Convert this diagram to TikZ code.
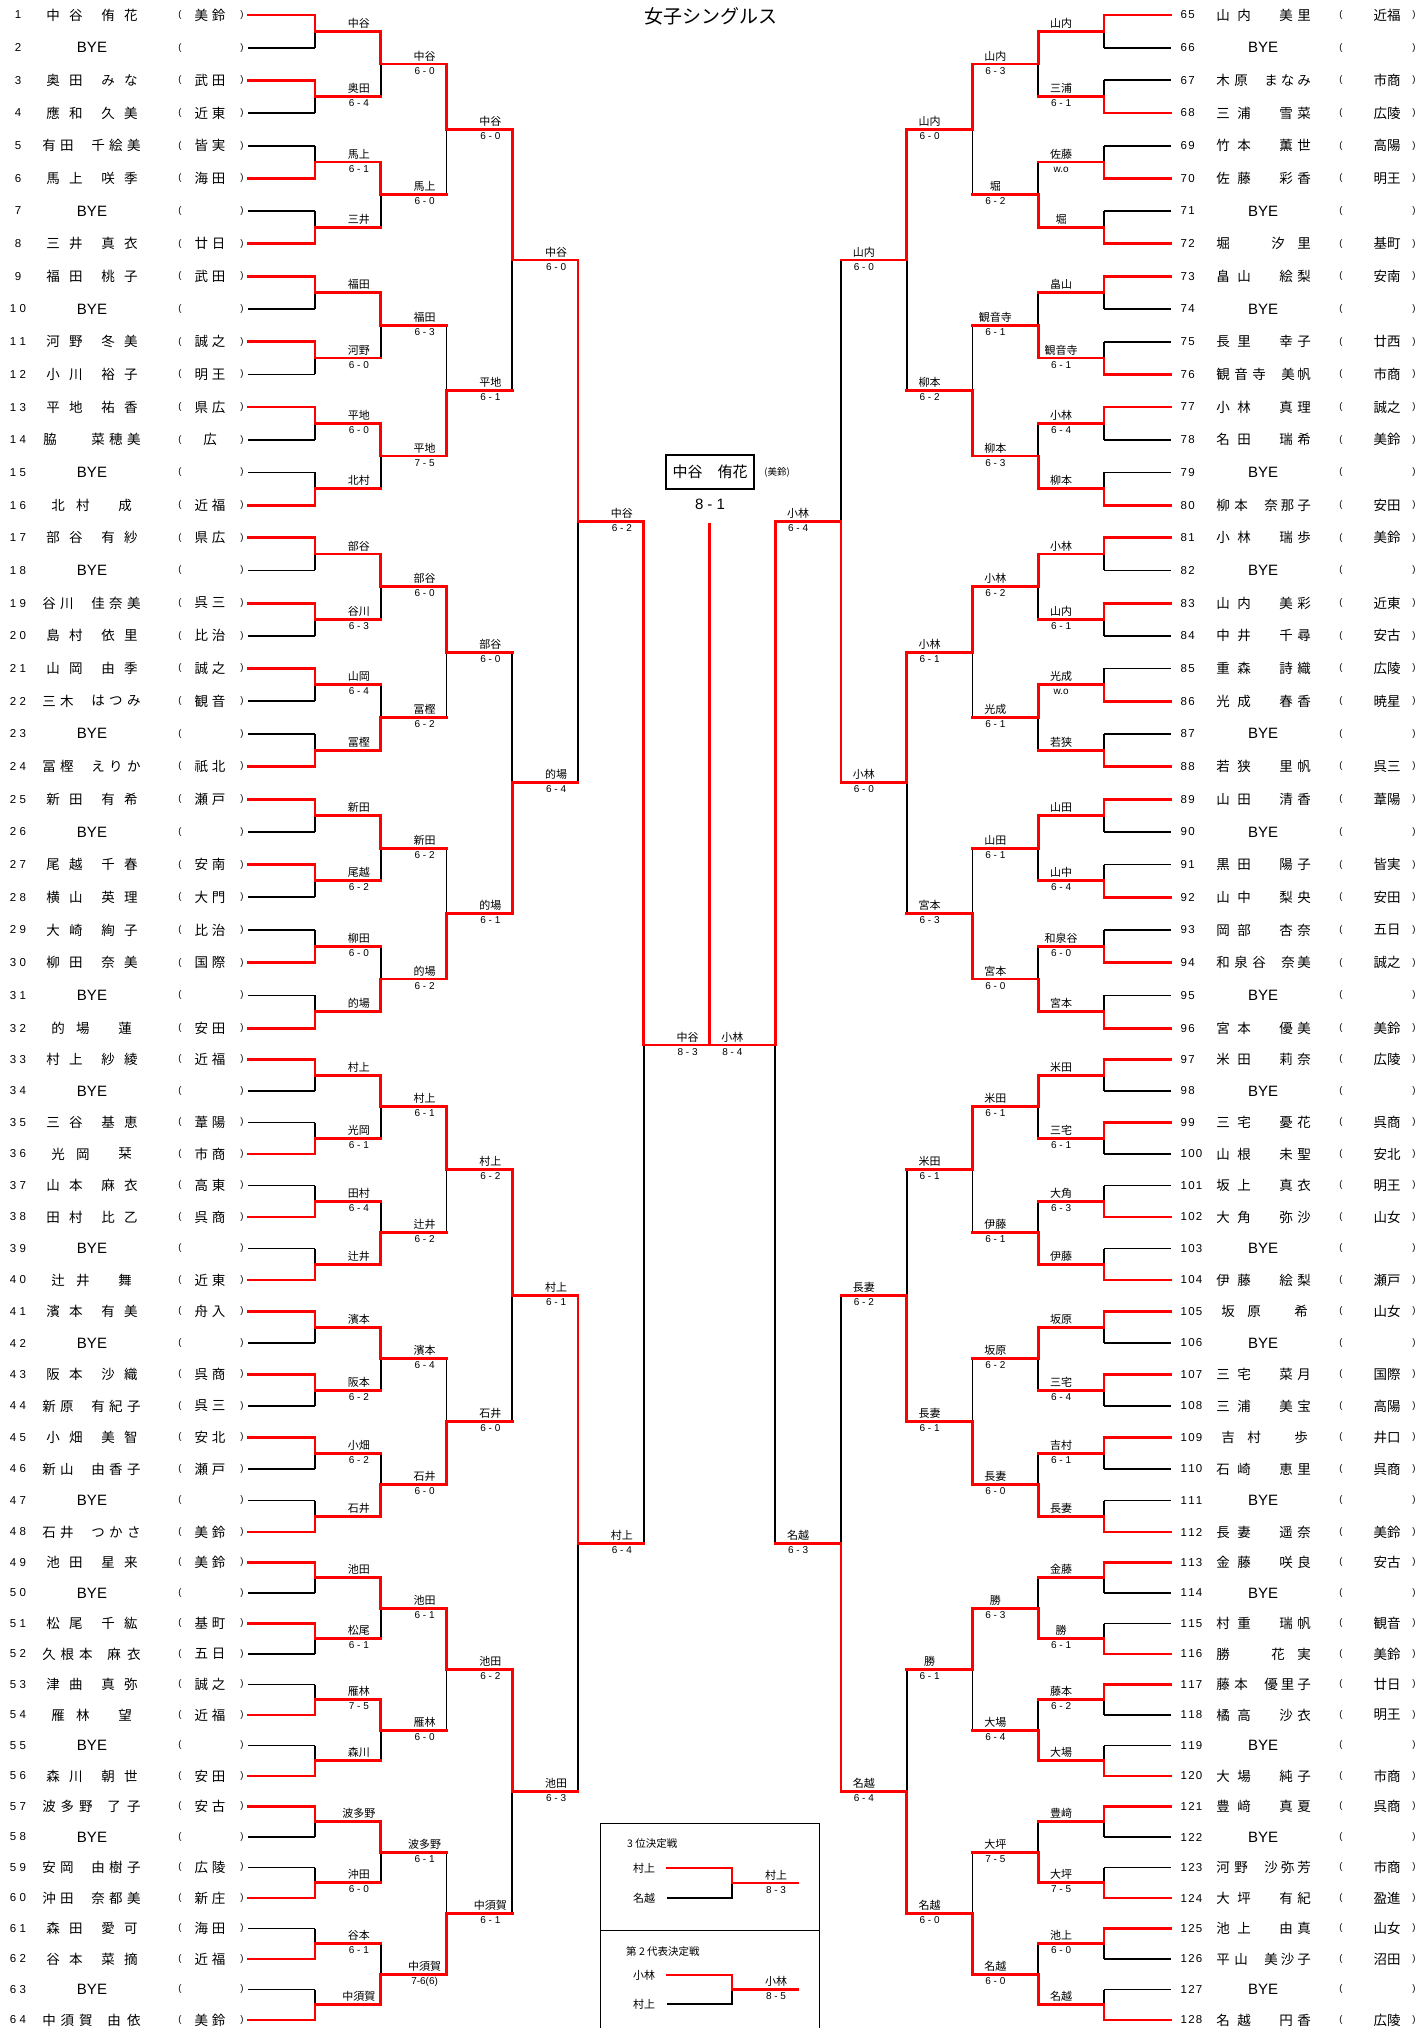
\documentclass[tikz,border=0pt]{standalone}
\usepackage{fontspec}
\setmainfont{Liberation Sans}
\newfontfamily\jp{Noto Sans CJK JP}
\usetikzlibrary{calc}
\pgfdeclarelayer{back}
\pgfsetlayers{back,main}

\def\spreadchars#1{\spreadA#1\relax}
\def\spreadA#1#2{#1\ifx#2\relax\else\hfill\expandafter\spreadA\expandafter#2\fi}
\def\kdk{3pt}
\def\kd#1{\kdA#1\relax}
\def\kdA#1#2{#1\ifx#2\relax\else\kern\kdk\expandafter\kdA\expandafter#2\fi}

% layouts: fam centre offset, fam width, given centre offset, given width
\expandafter\def\csname lay-L-22\endcsname{\def\fc{-27.5}\def\fw{36.5}\def\gc{27.5}\def\gw{36.5}}
\expandafter\def\csname lay-L-23\endcsname{\def\fc{-34}\def\fw{31.5}\def\gc{24}\def\gw{49.5}}
\expandafter\def\csname lay-L-32\endcsname{\def\fc{-24.5}\def\fw{50.5}\def\gc{32}\def\gw{33.5}}
\expandafter\def\csname lay-L-13\endcsname{\def\fc{-42}\def\fw{14}\def\gc{24}\def\gw{49.5}}
\expandafter\def\csname lay-L-21\endcsname{\def\fc{-21.5}\def\fw{38.5}\def\gc{33}\def\gw{14}}
\expandafter\def\csname lay-R-22\endcsname{\def\fc{-29.5}\def\fw{34.5}\def\gc{32}\def\gw{31.5}}
\expandafter\def\csname lay-R-23\endcsname{\def\fc{-31}\def\fw{31.5}\def\gc{24.5}\def\gw{46.5}}
\expandafter\def\csname lay-R-32\endcsname{\def\fc{-22}\def\fw{49.5}\def\gc{33}\def\gw{29.5}}
\expandafter\def\csname lay-R-21\endcsname{\def\fc{-22}\def\fw{39.5}\def\gc{38}\def\gw{14}}
\expandafter\def\csname lay-R-12\endcsname{\def\fc{-40}\def\fw{14}\def\gc{28}\def\gw{39.5}}
\expandafter\def\csname off-L\endcsname{0}
\expandafter\def\csname off-R\endcsname{64}
\expandafter\def\csname nc-L\endcsname{92}
\expandafter\def\csname nc-R\endcsname{1263}
\expandafter\def\csname lpx-L\endcsname{180}
\expandafter\def\csname scx-L\endcsname{210}
\expandafter\def\csname rpx-L\endcsname{242}
\expandafter\def\csname lpx-R\endcsname{1341}
\expandafter\def\csname scx-R\endcsname{1387}
\expandafter\def\csname rpx-R\endcsname{1414}
\expandafter\def\csname sw-L\endcsname{31}
\expandafter\def\csname sw-R\endcsname{26}
\expandafter\def\csname lsh-L\endcsname{11}
\expandafter\def\csname lsh-R\endcsname{-10}

\newcommand\player[6]{%
  \pgfmathtruncatemacro\pj{#2-1-\csname off-#1\endcsname}%
  \edef\py{\csname yv-0-\pj\endcsname}%
  \edef\cx{\csname nc-#1\endcsname}%
  \ifx L#1
    \def\kdk{3.5pt}%
    \node[numf] (#1p#2num) at (18,\py) {\kd{#2}};
  \else
    \def\kdk{1.2pt}%
    \node[numf,anchor=west] (#1p#2num) at (1180.5,\py) {\kd{#2}};
  \fi
  \ifnum#6=0
    \node[byef] (#1p#2fam) at (\cx,\py) {BYE};
  \else
    \csname lay-#1-#6\endcsname
    \node[namef] (#1p#2fam) at ({\cx+\fc},\py) {\makebox[\fw pt]{\spreadchars{#3}}};
    \node[namef] (#1p#2giv) at ({\cx+\gc},\py) {\makebox[\gw pt]{\spreadchars{#4}}};
  \fi
  \node[parf] (#1p#2lp) at (\csname lpx-#1\endcsname,\py) {(};
  \node[schf] (#1p#2sch) at (\csname scx-#1\endcsname,\py) {\ifx\relax#5\relax\else\makebox[\csname sw-#1\endcsname pt]{\spreadchars{#5}}\fi};
  \node[parf] (#1p#2rp) at (\csname rpx-#1\endcsname,\py) {)};
}

\newcommand\players[2]{%
  \foreach \Pnum/\Pfam/\Pgiv/\Psch/\Ptyp in {#2} {%
    \edef\doit{\noexpand\player{#1}{\Pnum}{\Pfam}{\Pgiv}{\Psch}{\Ptyp}}\doit
  }}

\newcommand\matches[3]{%
  \foreach \W/\NM/\SC [count=\jj from 0] in {#3} {%
    \pgfmathtruncatemacro\ia{2*\jj}%
    \pgfmathtruncatemacro\ib{2*\jj+1}%
    \pgfmathtruncatemacro\km{#2-1}%
    \if t\W \let\iw\ia \else \let\iw\ib \fi
    \begin{pgfonlayer}{back}
      \draw[blk] (#1-\km-\ia-b) -- (#1-\km-\ib-b);
      \ifnum#2=1
        \draw[blk] (#1-0-\ia-a) -- (#1-0-\ia-b);
        \draw[blk] (#1-0-\ib-a) -- (#1-0-\ib-b);
      \fi
    \end{pgfonlayer}
    \ifnum#2=1
      \draw[rln] (#1-0-\iw-a) -- (#1-0-\iw-b) -- (#1-1-\jj-a) -- (#1-1-\jj-b);
    \else
      \draw[rln] (#1-\km-\iw-b) -- (#1-#2-\jj-a) -- (#1-#2-\jj-b);
    \fi
    \path (#1-#2-\jj-a) -- (#1-#2-\jj-b) coordinate[midway] (#1-#2-\jj-m);
    \node[lab, xshift=\csname lsh-#1\endcsname pt, yshift=4pt] (#1-#2-\jj-n) at (#1-#2-\jj-m) {\NM};
    \node[scr, xshift=\csname lsh-#1\endcsname pt, yshift=-10pt] (#1-#2-\jj-s) at (#1-#2-\jj-m) {\SC};
  }}

\begin{document}
\begin{tikzpicture}[x=1pt,y=-1pt,
  blk/.style={line width=1.7pt,black},
  rln/.style={line width=2.9pt,red,line cap=rect},
  numf/.style={font=\fontsize{11.5}{12}\selectfont, inner sep=0pt},
  namef/.style={font=\jp\fontsize{13.5}{14}\selectfont, inner sep=0pt},
  schf/.style={font=\jp\fontsize{13.5}{14}\selectfont, inner sep=0pt},
  byef/.style={font=\fontsize{15}{15}\selectfont, inner sep=0pt},
  parf/.style={font=\fontsize{9.5}{10}\selectfont, inner sep=0pt},
  lab/.style={font=\jp\fontsize{11}{11}\selectfont, inner sep=0pt, anchor=base},
  scr/.style={font=\fontsize{10}{10}\selectfont, inner sep=0pt, anchor=base},
  boxt/.style={font=\jp\fontsize{10.5}{11}\selectfont, inner sep=0pt, anchor=west},
  thin/.style={line width=1pt,black}]
\useasboundingbox (0,0) rectangle (1417,2028);

% ---- row and level heights ----
\foreach \j in {0,...,63} {
  \pgfmathsetmacro\yy{(\j<16) ? (15+\j*32.67) : ((\j<32) ? (505+(\j-15)*32.69) : ((\j<48) ? (1028+(\j-31)*31.5) : (1532+(\j-47)*30.5)))}
  \expandafter\xdef\csname yv-0-\j\endcsname{\yy}
}
\foreach \k in {1,...,6} {
  \pgfmathtruncatemacro\nmax{2^(6-\k)-1}
  \pgfmathtruncatemacro\km{\k-1}
  \foreach \j in {0,...,\nmax} {
    \pgfmathtruncatemacro\ja{2*\j}\pgfmathtruncatemacro\jb{2*\j+1}
    \pgfmathsetmacro\yy{(\csname yv-\km-\ja\endcsname+\csname yv-\km-\jb\endcsname)/2}
    \expandafter\xdef\csname yv-\k-\j\endcsname{\yy}
  }
}
\expandafter\xdef\csname yv-6-0\endcsname{1045}
% ---- coordinates ----
\foreach \SD/\XS/\XA/\DX in {L/248/315/65.75, R/1171/1104/-65.75} {
  \foreach \j in {0,...,63} {
    \edef\yy{\csname yv-0-\j\endcsname}
    \coordinate (\SD-0-\j-a) at (\XS,\yy);
    \coordinate (\SD-0-\j-b) at (\XA,\yy);
  }
  \foreach \k in {1,...,6} {
    \pgfmathtruncatemacro\nmax{2^(6-\k)-1}
    \pgfmathsetmacro\xk{\XA+(\k-1)*\DX}
    \pgfmathsetmacro\xn{\XA+\k*\DX}
    \foreach \j in {0,...,\nmax} {
      \edef\yy{\csname yv-\k-\j\endcsname}
      \coordinate (\SD-\k-\j-a) at (\xk,\yy);
      \coordinate (\SD-\k-\j-b) at (\xn,\yy);
    }
  }
}

\node[font=\jp\fontsize{19}{19}\selectfont, inner sep=0pt] (title) at (711,16) {女子シングルス};

% ---- players ----
\players{L}{1/中谷/侑花/美鈴/22, 2/{}/{}/{}/0, 3/奥田/みな/武田/22, 4/應和/久美/近東/22, 5/有田/千絵美/皆実/23, 6/馬上/咲季/海田/22, 7/{}/{}/{}/0, 8/三井/真衣/廿日/22, 9/福田/桃子/武田/22, 10/{}/{}/{}/0, 11/河野/冬美/誠之/22, 12/小川/裕子/明王/22, 13/平地/祐香/県広/22, 14/脇/菜穂美/広/13, 15/{}/{}/{}/0, 16/北村/成/近福/21, 17/部谷/有紗/県広/22, 18/{}/{}/{}/0, 19/谷川/佳奈美/呉三/23, 20/島村/依里/比治/22, 21/山岡/由季/誠之/22, 22/三木/はつみ/観音/23, 23/{}/{}/{}/0, 24/冨樫/えりか/祇北/23, 25/新田/有希/瀬戸/22, 26/{}/{}/{}/0, 27/尾越/千春/安南/22, 28/横山/英理/大門/22, 29/大崎/絢子/比治/22, 30/柳田/奈美/国際/22, 31/{}/{}/{}/0, 32/的場/蓮/安田/21, 33/村上/紗綾/近福/22, 34/{}/{}/{}/0, 35/三谷/基恵/葦陽/22, 36/光岡/栞/市商/21, 37/山本/麻衣/高東/22, 38/田村/比乙/呉商/22, 39/{}/{}/{}/0, 40/辻井/舞/近東/21, 41/濱本/有美/舟入/22, 42/{}/{}/{}/0, 43/阪本/沙織/呉商/22, 44/新原/有紀子/呉三/23, 45/小畑/美智/安北/22, 46/新山/由香子/瀬戸/23, 47/{}/{}/{}/0, 48/石井/つかさ/美鈴/23, 49/池田/星来/美鈴/22, 50/{}/{}/{}/0, 51/松尾/千紘/基町/22, 52/久根本/麻衣/五日/32, 53/津曲/真弥/誠之/22, 54/雁林/望/近福/21, 55/{}/{}/{}/0, 56/森川/朝世/安田/22, 57/波多野/了子/安古/32, 58/{}/{}/{}/0, 59/安岡/由樹子/広陵/23, 60/沖田/奈都美/新庄/23, 61/森田/愛可/海田/22, 62/谷本/菜摘/近福/22, 63/{}/{}/{}/0, 64/中須賀/由依/美鈴/32}

\players{R}{65/山内/美里/近福/22, 66/{}/{}/{}/0, 67/木原/まなみ/市商/23, 68/三浦/雪菜/広陵/22, 69/竹本/薫世/高陽/22, 70/佐藤/彩香/明王/22, 71/{}/{}/{}/0, 72/堀/汐里/基町/12, 73/畠山/絵梨/安南/22, 74/{}/{}/{}/0, 75/長里/幸子/廿西/22, 76/観音寺/美帆/市商/32, 77/小林/真理/誠之/22, 78/名田/瑞希/美鈴/22, 79/{}/{}/{}/0, 80/柳本/奈那子/安田/23, 81/小林/瑞歩/美鈴/22, 82/{}/{}/{}/0, 83/山内/美彩/近東/22, 84/中井/千尋/安古/22, 85/重森/詩織/広陵/22, 86/光成/春香/暁星/22, 87/{}/{}/{}/0, 88/若狭/里帆/呉三/22, 89/山田/清香/葦陽/22, 90/{}/{}/{}/0, 91/黒田/陽子/皆実/22, 92/山中/梨央/安田/22, 93/岡部/杏奈/五日/22, 94/和泉谷/奈美/誠之/32, 95/{}/{}/{}/0, 96/宮本/優美/美鈴/22, 97/米田/莉奈/広陵/22, 98/{}/{}/{}/0, 99/三宅/憂花/呉商/22, 100/山根/未聖/安北/22, 101/坂上/真衣/明王/22, 102/大角/弥沙/山女/22, 103/{}/{}/{}/0, 104/伊藤/絵梨/瀬戸/22, 105/坂原/希/山女/21, 106/{}/{}/{}/0, 107/三宅/菜月/国際/22, 108/三浦/美宝/高陽/22, 109/吉村/歩/井口/21, 110/石崎/恵里/呉商/22, 111/{}/{}/{}/0, 112/長妻/遥奈/美鈴/22, 113/金藤/咲良/安古/22, 114/{}/{}/{}/0, 115/村重/瑞帆/観音/22, 116/勝/花実/美鈴/12, 117/藤本/優里子/廿日/23, 118/橘高/沙衣/明王/22, 119/{}/{}/{}/0, 120/大場/純子/市商/22, 121/豊﨑/真夏/呉商/22, 122/{}/{}/{}/0, 123/河野/沙弥芳/市商/23, 124/大坪/有紀/盈進/22, 125/池上/由真/山女/22, 126/平山/美沙子/沼田/23, 127/{}/{}/{}/0, 128/名越/円香/広陵/22}

% ---- left bracket ----
\matches{L}{1}{t/中谷/{}, t/奥田/6 - 4, b/馬上/6 - 1, b/三井/{}, t/福田/{}, t/河野/6 - 0, t/平地/6 - 0, b/北村/{}, t/部谷/{}, t/谷川/6 - 3, t/山岡/6 - 4, b/冨樫/{}, t/新田/{}, t/尾越/6 - 2, b/柳田/6 - 0, b/的場/{}, t/村上/{}, b/光岡/6 - 1, b/田村/6 - 4, b/辻井/{}, t/濱本/{}, t/阪本/6 - 2, t/小畑/6 - 2, b/石井/{}, t/池田/{}, t/松尾/6 - 1, b/雁林/7 - 5, b/森川/{}, t/波多野/{}, b/沖田/6 - 0, b/谷本/6 - 1, b/中須賀/{}}
\matches{L}{2}{t/中谷/6 - 0, t/馬上/6 - 0, t/福田/6 - 3, t/平地/7 - 5, t/部谷/6 - 0, b/冨樫/6 - 2, t/新田/6 - 2, b/的場/6 - 2, t/村上/6 - 1, b/辻井/6 - 2, t/濱本/6 - 4, b/石井/6 - 0, t/池田/6 - 1, t/雁林/6 - 0, t/波多野/6 - 1, b/中須賀/7-6(6)}
\matches{L}{3}{t/中谷/6 - 0, b/平地/6 - 1, t/部谷/6 - 0, b/的場/6 - 1, t/村上/6 - 2, b/石井/6 - 0, t/池田/6 - 2, b/中須賀/6 - 1}
\matches{L}{4}{t/中谷/6 - 0, b/的場/6 - 4, t/村上/6 - 1, t/池田/6 - 3}
\matches{L}{5}{t/中谷/6 - 2, t/村上/6 - 4}
\matches{L}{6}{t/中谷/8 - 3}

% ---- right bracket ----
\matches{R}{1}{t/山内/{}, b/三浦/6 - 1, b/佐藤/w.o, b/堀/{}, t/畠山/{}, b/観音寺/6 - 1, t/小林/6 - 4, b/柳本/{}, t/小林/{}, t/山内/6 - 1, b/光成/w.o, b/若狭/{}, t/山田/{}, b/山中/6 - 4, b/和泉谷/6 - 0, b/宮本/{}, t/米田/{}, t/三宅/6 - 1, b/大角/6 - 3, b/伊藤/{}, t/坂原/{}, t/三宅/6 - 4, t/吉村/6 - 1, b/長妻/{}, t/金藤/{}, b/勝/6 - 1, t/藤本/6 - 2, b/大場/{}, t/豊﨑/{}, b/大坪/7 - 5, t/池上/6 - 0, b/名越/{}}
\matches{R}{2}{t/山内/6 - 3, b/堀/6 - 2, b/観音寺/6 - 1, b/柳本/6 - 3, t/小林/6 - 2, t/光成/6 - 1, t/山田/6 - 1, b/宮本/6 - 0, t/米田/6 - 1, b/伊藤/6 - 1, t/坂原/6 - 2, b/長妻/6 - 0, b/勝/6 - 3, b/大場/6 - 4, b/大坪/7 - 5, b/名越/6 - 0}
\matches{R}{3}{t/山内/6 - 0, b/柳本/6 - 2, t/小林/6 - 1, b/宮本/6 - 3, t/米田/6 - 1, b/長妻/6 - 1, t/勝/6 - 1, b/名越/6 - 0}
\matches{R}{4}{t/山内/6 - 0, t/小林/6 - 0, b/長妻/6 - 2, b/名越/6 - 4}
\matches{R}{5}{b/小林/6 - 4, b/名越/6 - 3}
\matches{R}{6}{t/小林/8 - 4}

% ---- final ----
\coordinate (F-top) at (709.5,524);
\draw[rln] (L-6-0-b) -- (F-top);
\node[draw, line width=1.3pt, inner sep=0pt, minimum width=88pt, minimum height=34pt, font=\jp\fontsize{15}{15}\selectfont] (champ) at (710,472) {中谷　侑花};
\node[font=\jp\fontsize{9.5}{10}\selectfont, inner sep=0pt] (champsch) at (777,472) {(美鈴)};
\node[font=\fontsize{15}{15}\selectfont, inner sep=0pt] (champsc) at (710,504) {8 - 1};

% ---- 3rd place and 2nd representative ----
\coordinate (bx-nw) at (600.7,1823);
\coordinate (bx-se) at (819,2045);
\coordinate (bx-dl) at (600.7,1930);
\coordinate (bx-dr) at (819,1930);
\draw[thin] (bx-nw) rectangle (bx-se);
\draw[thin] (bx-dl) -- (bx-dr);
\node[boxt] (tp-title) at (627,1844) {3 位決定戦};
\node[lab, anchor=center] (tp-a) at (644,1868) {村上};
\node[lab, anchor=center] (tp-b) at (644,1898) {名越};
\coordinate (tp-a1) at (667,1868); \coordinate (tp-a2) at (732,1868);
\coordinate (tp-b1) at (667,1898); \coordinate (tp-b2) at (732,1898);
\coordinate (tp-m) at (732,1883); \coordinate (tp-o) at (798,1883);
\begin{pgfonlayer}{back}
\draw[blk] (tp-b1) -- (tp-b2) -- (tp-a2);
\end{pgfonlayer}
\draw[rln] (tp-a1) -- (tp-a2) -- (tp-m) -- (tp-o);
\path (tp-m) -- (tp-o) coordinate[midway] (tp-c);
\node[lab, xshift=11pt, yshift=4pt] (tp-n) at (tp-c) {村上};
\node[scr, xshift=11pt, yshift=-10pt] (tp-s) at (tp-c) {8 - 3};

\node[boxt] (sr-title) at (626,1951) {第 2 代表決定戦};
\node[lab, anchor=center] (sr-a) at (644,1975) {小林};
\node[lab, anchor=center] (sr-b) at (644,2004) {村上};
\coordinate (sr-a1) at (667,1975); \coordinate (sr-a2) at (732,1975);
\coordinate (sr-b1) at (667,2004); \coordinate (sr-b2) at (732,2004);
\coordinate (sr-m) at (732,1989.5); \coordinate (sr-o) at (798,1989.5);
\begin{pgfonlayer}{back}
\draw[blk] (sr-b1) -- (sr-b2) -- (sr-a2);
\end{pgfonlayer}
\draw[rln] (sr-a1) -- (sr-a2) -- (sr-m) -- (sr-o);
\path (sr-m) -- (sr-o) coordinate[midway] (sr-c);
\node[lab, xshift=11pt, yshift=4pt] (sr-n) at (sr-c) {小林};
\node[scr, xshift=11pt, yshift=-10pt] (sr-s) at (sr-c) {8 - 5};
\end{tikzpicture}
\end{document}
